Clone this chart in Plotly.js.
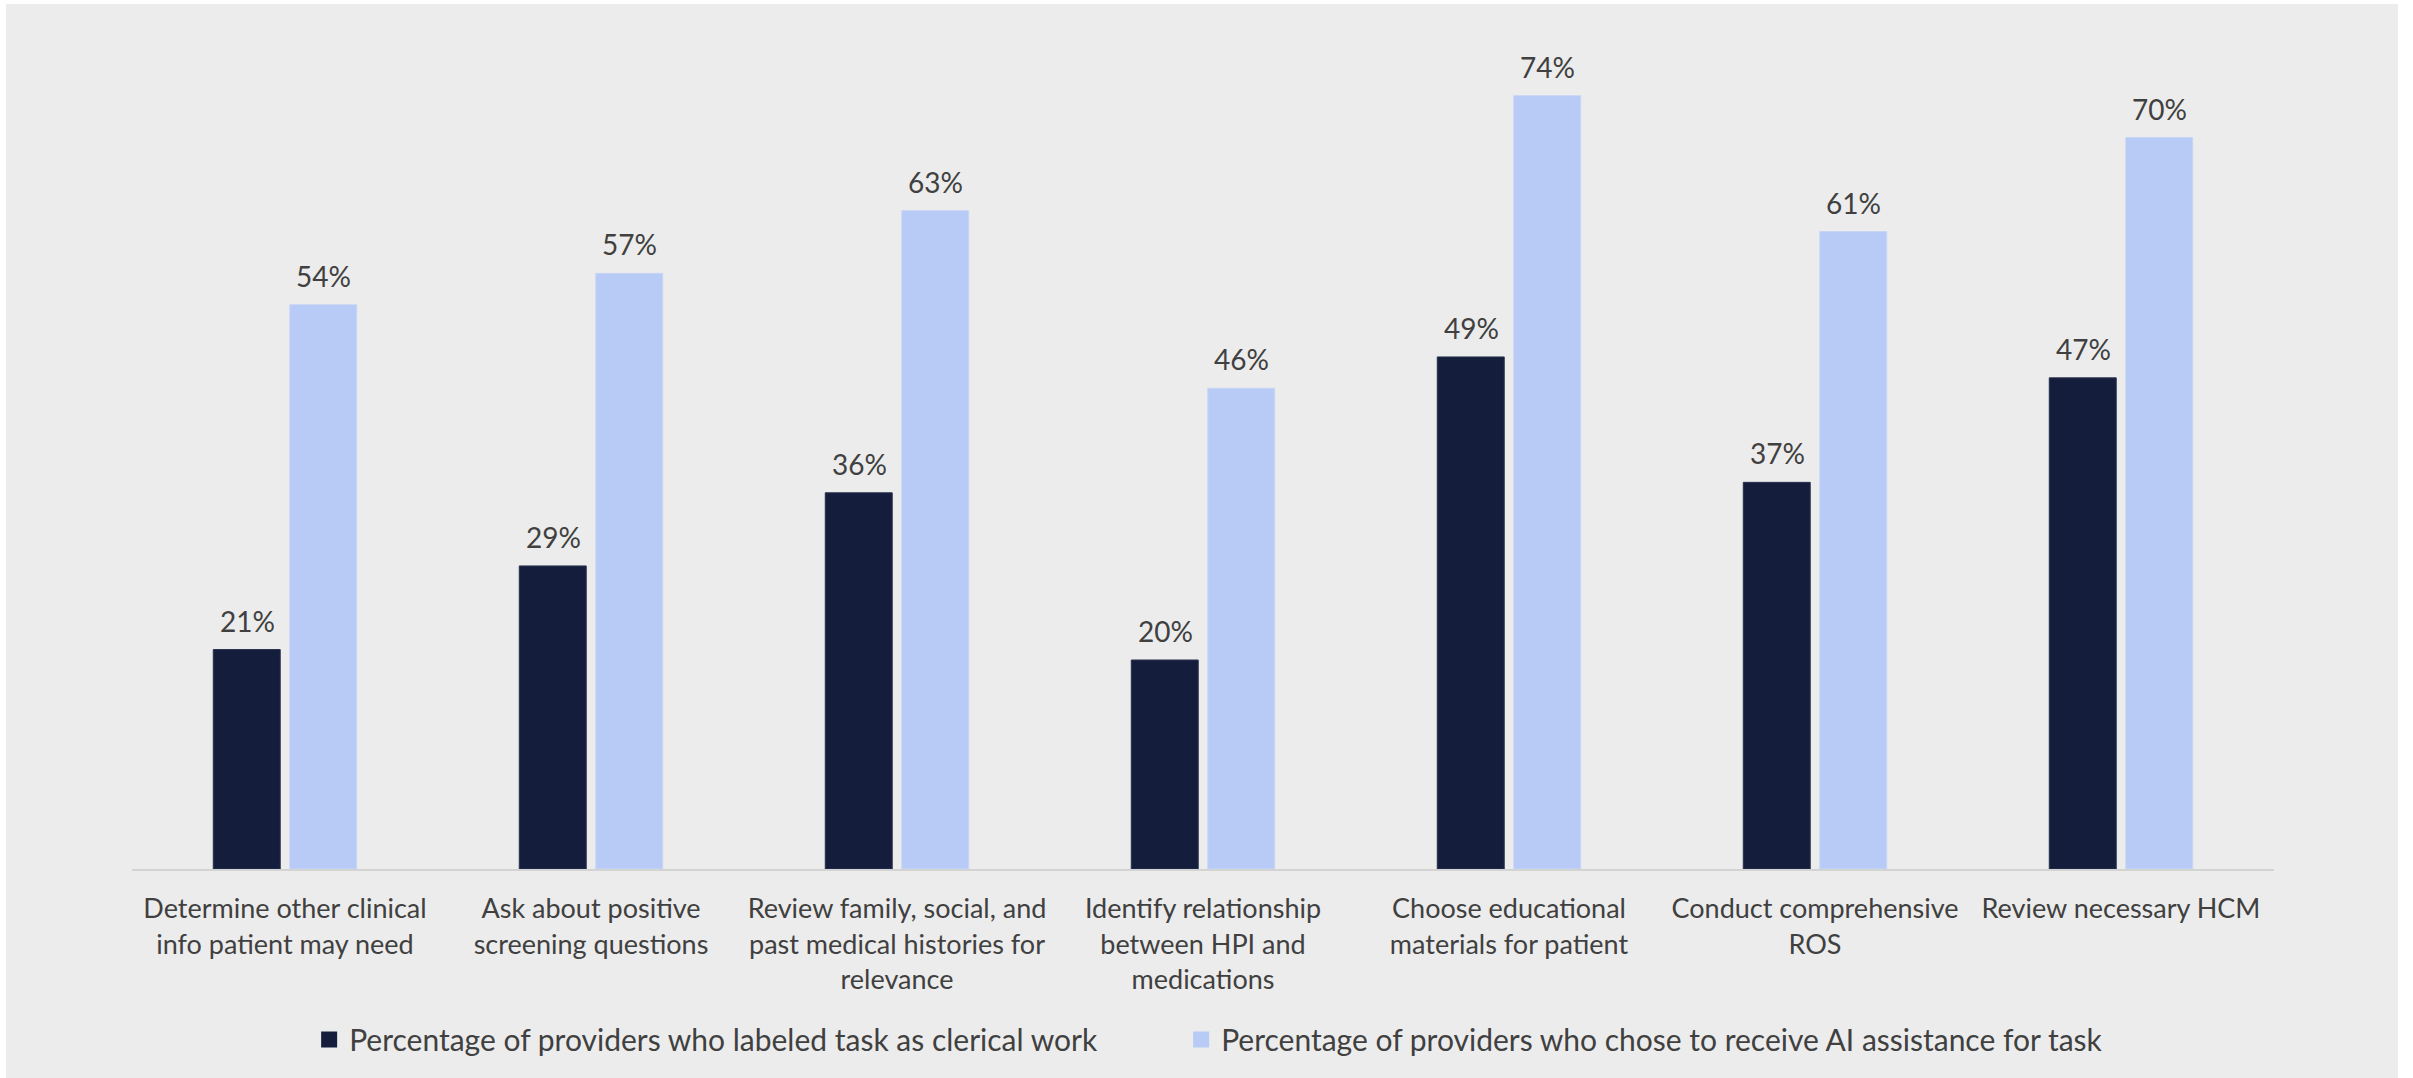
<!DOCTYPE html>
<html>
<head>
<meta charset="utf-8">
<script src="https://cdn.plot.ly/plotly-3.0.1.min.js"></script>
<style>
  html, body { margin: 0; padding: 0; background: #ffffff; width: 2413px; height: 1078px; overflow: hidden; }
  #chart { position: absolute; left: 6px; top: 4px; width: 2392px; height: 1074px; }
</style>
</head>
<body>
<div id="chart"></div>
<script>
// ---- data ----
const categories = [
  "Determine other clinical<br>info patient may need",
  "Ask about positive<br>screening questions",
  "Review family, social, and<br>past medical histories for<br>relevance",
  "Identify relationship<br>between HPI and<br>medications",
  "Choose educational<br>materials for patient",
  "Conduct comprehensive<br>ROS",
  "Review necessary HCM"
];
const seriesNames = [
  "Percentage of providers who labeled task as clerical work",
  "Percentage of providers who chose to receive AI assistance for task"
];
const clericalValues = [21, 29, 36, 20, 49, 37, 47];
const aiValues = [54, 57, 63, 46, 74, 61, 70];

// ---- style ----
const FONT = "Lato, 'Open Sans', sans-serif";
const TEXT = "#404040";
const DARK = "#141e3c";
const LIGHT = "#b8cbf6";

const traces = [
  {
    type: "bar", name: seriesNames[0], x: categories, y: clericalValues,
    marker: { color: DARK, line: { color: "#28314d", width: 1 } },
    hoverinfo: "skip", showlegend: false, legendgroup: "a"
  },
  {
    type: "bar", name: seriesNames[1], x: categories, y: aiValues,
    marker: { color: LIGHT, line: { color: "#c8d6f6", width: 1 } },
    hoverinfo: "skip", showlegend: false, legendgroup: "b"
  },
  // legend entries (larger square keys)
  {
    type: "scatter", mode: "markers", name: seriesNames[0], x: [null], y: [null],
    marker: { symbol: "square", size: 16, color: DARK }, legendgroup: "a",
    legend: "legend", hoverinfo: "skip"
  },
  {
    type: "scatter", mode: "markers", name: seriesNames[1], x: [null], y: [null],
    marker: { symbol: "square", size: 16, color: LIGHT }, legendgroup: "b",
    legend: "legend2", hoverinfo: "skip"
  }
];

// value labels placed above each bar via the chart's own scales
const annotations = [];
const groupOffset = 38;
[clericalValues, aiValues].forEach((vals, si) => {
  vals.forEach((v, i) => {
    annotations.push({
      x: categories[i], y: v, xref: "x", yref: "y",
      text: v + "%", showarrow: false,
      xshift: si === 0 ? -groupOffset : groupOffset,
      yanchor: "bottom", yshift: 10,
      font: { family: FONT, size: 28, color: TEXT }
    });
  });
});

const legendCommon = {
  orientation: "h", xanchor: "left", y: -0.204, yanchor: "middle",
  font: { family: FONT, size: 30, color: TEXT },
  itemwidth: 30,
  bgcolor: "rgba(0,0,0,0)", itemclick: false, itemdoubleclick: false
};

const layout = {
  width: 2392, height: 1074,
  paper_bgcolor: "#ececec", plot_bgcolor: "#ececec",
  margin: { l: 126, r: 124, t: 29, b: 207 },
  barmode: "group", bargap: 0.5, bargroupgap: 0.125,
  font: { family: FONT, color: TEXT },
  xaxis: {
    type: "category",
    showline: true, linecolor: "#d3d3d3", linewidth: 2,
    ticks: "outside", ticklen: 15, tickcolor: "rgba(0,0,0,0)",
    tickfont: { family: FONT, size: 27, color: TEXT },
    showgrid: false, zeroline: false, fixedrange: true
  },
  yaxis: {
    range: [0, 80], visible: false, showgrid: false, zeroline: false, fixedrange: true
  },
  showlegend: true,
  legend: Object.assign({}, legendCommon, { x: 0.0827 }),
  legend2: Object.assign({}, legendCommon, { x: 0.4898 }),
  annotations: annotations
};

Plotly.newPlot("chart", traces, layout, { staticPlot: true, displayModeBar: false });
</script>
</body>
</html>
